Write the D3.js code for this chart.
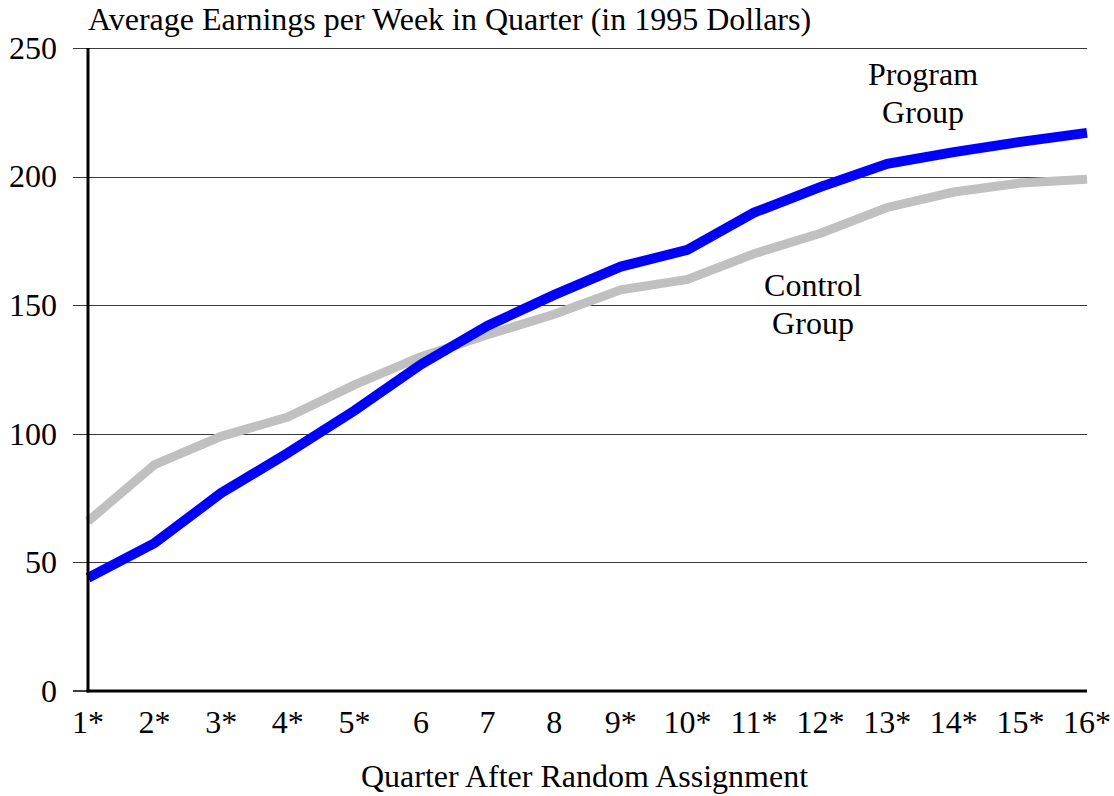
<!DOCTYPE html>
<html lang="en">
<head>
<meta charset="utf-8">
<style>
  body { margin: 0; background: #fff; }
  svg { display: block; }
</style>
</head>
<body>
<script src="https://cdnjs.cloudflare.com/ajax/libs/d3/7.8.5/d3.min.js"></script>
<script>
    var width = 1114, height = 796;
    var margin = { top: 48, right: 27, bottom: 105, left: 88 };
    var fontSize = 32;

    // data
    var quarters = ['1*', '2*', '3*', '4*', '5*', '6', '7', '8', '9*', '10*', '11*', '12*', '13*', '14*', '15*', '16*'];
    var programGroup = [44, 57.5, 77, 92.5, 109, 127, 142, 154, 165, 171.5, 186, 196, 205, 209.5, 213.5, 217];
    var controlGroup = [66, 88, 99, 106.5, 119, 130, 138.5, 146.5, 156, 160, 170, 178, 188, 194, 197.5, 199];
    var yTicks = [0, 50, 100, 150, 200, 250];

    var svg = d3.select('body').append('svg')
        .attr('width', width).attr('height', height)
        .attr('font-family', "'Liberation Serif', 'Times New Roman', serif");

    var x = d3.scalePoint().domain(quarters).range([margin.left, width - margin.right]);
    var y = d3.scaleLinear().domain([0, 250]).range([height - margin.bottom, margin.top]);

    // gridlines
    svg.append('g')
        .selectAll('line')
        .data(yTicks.filter(function (d) { return d > 0 }))
        .join('line')
        .attr('x1', 73).attr('x2', width - margin.right)
        .attr('y1', function (d) { return Math.round(y(d)) + 0.5 })
        .attr('y2', function (d) { return Math.round(y(d)) + 0.5 })
        .attr('stroke', '#3a3a3a').attr('stroke-width', 1);

    // tick at zero
    svg.append('line')
        .attr('x1', 73).attr('x2', margin.left)
        .attr('y1', y(0)).attr('y2', y(0))
        .attr('stroke', '#000').attr('stroke-width', 1.5);

    // y labels
    svg.append('g')
        .selectAll('text')
        .data(yTicks)
        .join('text')
        .attr('x', 57)
        .attr('y', function (d) { return y(d) })
        .attr('dy', '0.34em')
        .attr('text-anchor', 'end')
        .attr('font-size', fontSize)
        .text(function (d) { return d });

    var line = d3.line()
        .x(function (d, i) { return x(quarters[i]) })
        .y(function (d) { return y(d) });

    svg.append('path')
        .datum(controlGroup)
        .attr('d', line)
        .attr('fill', 'none')
        .attr('stroke', '#c0c0c0')
        .attr('stroke-width', 9);

    svg.append('path')
        .datum(programGroup)
        .attr('d', line)
        .attr('fill', 'none')
        .attr('stroke', '#0000ff')
        .attr('stroke-width', 10);

    // axes lines
    svg.append('line')
        .attr('x1', margin.left).attr('x2', margin.left)
        .attr('y1', margin.top).attr('y2', y(0) + 1.5)
        .attr('stroke', '#000').attr('stroke-width', 3);
    svg.append('line')
        .attr('x1', margin.left - 1.5).attr('x2', width - margin.right)
        .attr('y1', y(0)).attr('y2', y(0))
        .attr('stroke', '#000').attr('stroke-width', 3);

    // x labels
    svg.append('g')
        .selectAll('text')
        .data(quarters)
        .join('text')
        .attr('x', function (d) { return x(d) })
        .attr('y', 733)
        .attr('text-anchor', 'middle')
        .attr('font-size', fontSize)
        .text(function (d) { return d });

    svg.append('text')
        .attr('x', (margin.left + width - margin.right) / 2 - 3)
        .attr('y', 787)
        .attr('text-anchor', 'middle')
        .attr('font-size', fontSize)
        .text('Quarter After Random Assignment');

    svg.append('text')
        .attr('x', margin.left)
        .attr('y', 30)
        .attr('font-size', fontSize)
        .text('Average Earnings per Week in Quarter (in 1995 Dollars)');

    // series labels
    var notes = [
        { lines: ['Program', 'Group'], x: 923, y: 85 },
        { lines: ['Control', 'Group'], x: 813, y: 296 }
    ];
    notes.forEach(function (n) {
        n.lines.forEach(function (t, i) {
            svg.append('text')
                .attr('x', n.x)
                .attr('y', n.y + i * 38)
                .attr('text-anchor', 'middle')
                .attr('font-size', fontSize)
                .text(t);
        });
    });
</script>
</body>
</html>
